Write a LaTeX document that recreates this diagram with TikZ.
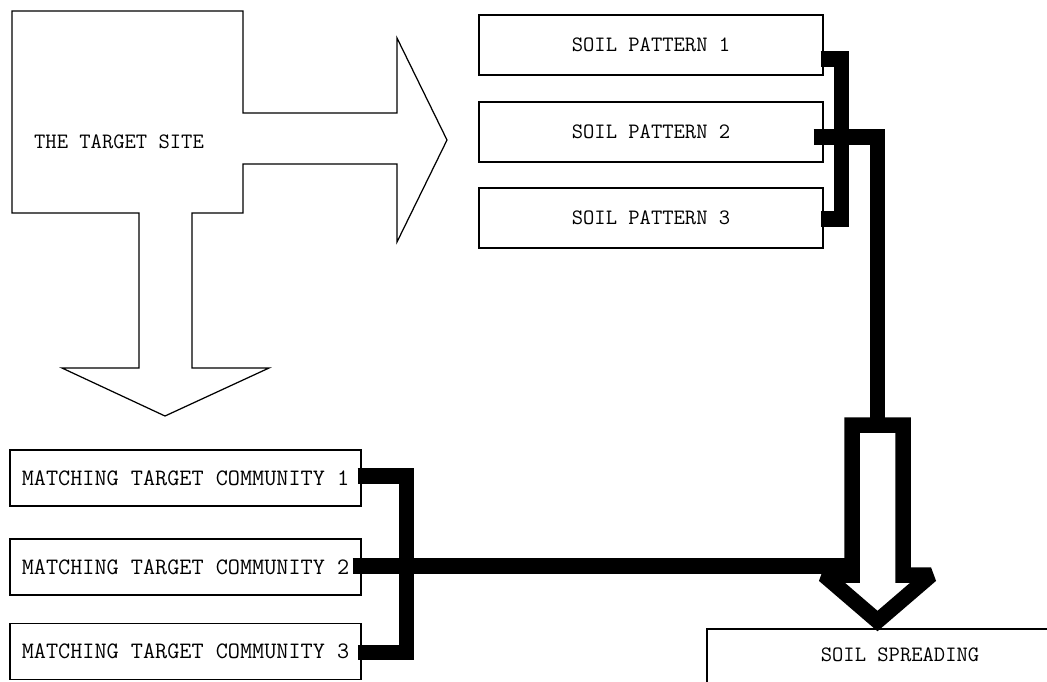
\documentclass[tikz,border=0pt]{standalone}
\usepackage{xcolor}
\usepackage{tikz}

\begin{document}
\begin{tikzpicture}[x=0.02cm, y=-0.02cm,
      txt/.style={font=\fontsize{12.5}{14}\selectfont\ttfamily},
      box/.style={draw, line width=0.7pt, inner sep=0pt, txt},
      soilbox/.style={box, minimum width=6.88cm, minimum height=1.2cm},
      matchbox/.style={box, minimum width=7.02cm, minimum height=1.12cm,
                       font=\fontsize{13.4}{15}\selectfont\ttfamily},
      outline/.style={draw, line width=0.7pt, line join=miter},
      bar/.style={line width=0.31cm, line join=miter, miter limit=1.5},
    ]
    \clip (0,0) rectangle (1047,681);

    % Target site with its two open arrows
    \draw[outline] (12,11) -- (243,11) -- (243,113) -- (397,113) -- (397,38)
      -- (447,140) -- (397,242) -- (397,164) -- (243,164) -- (243,213)
      -- (192,213) -- (192,368) -- (269,368) -- (165,416) -- (62,368)
      -- (139,368) -- (139,213) -- (12,213) -- cycle;
    \node[txt] (site) at (119,142) {THE TARGET SITE};

    % Soil patterns
    \node[soilbox] (sp1) at (651,45) {SOIL PATTERN 1};
    \node[soilbox] (sp2) at (651,132) {SOIL PATTERN 2};
    \node[soilbox] (sp3) at (651,218) {SOIL PATTERN 3};

    % Matching target communities
    \node[matchbox] (mc1) at (185.5,478) {MATCHING TARGET COMMUNITY 1};
    \node[matchbox] (mc2) at (185.5,567) {MATCHING TARGET COMMUNITY 2};
    \node[matchbox] (mc3) at (185.5,651.5) {MATCHING TARGET COMMUNITY 3};

    % Soil spreading
    \node[txt] (spread) at (900,655) {SOIL SPREADING};
    \draw[line width=0.7pt] (707,700) |- (1060,629);

    % Thick hollow arrow onto soil spreading
    \coordinate (drop) at (877.5,425);
    \coordinate (wing) at (845,566);
    \draw[bar] (852,425) -- (903,425) -- (903,575) -- (931,575)
      -- (877.5,621) -- (824,575) -- (852,575) -- cycle;

    % Brackets
    \draw[bar] ([shift={(-3,14)}]sp1.east) -- ++(21,0) |- ([shift={(-3,1)}]sp3.east);
    \draw[bar] ([shift={(-10,5)}]sp2.east) -| (drop);
    \draw[bar] ([shift={(-4,-2)}]mc1.east) -- ++(49,0) |- ([shift={(-4,1)}]mc3.east);
    \draw[bar] ([shift={(-9,-1)}]mc2.east) -- (wing);

  \end{tikzpicture}
\end{document}
